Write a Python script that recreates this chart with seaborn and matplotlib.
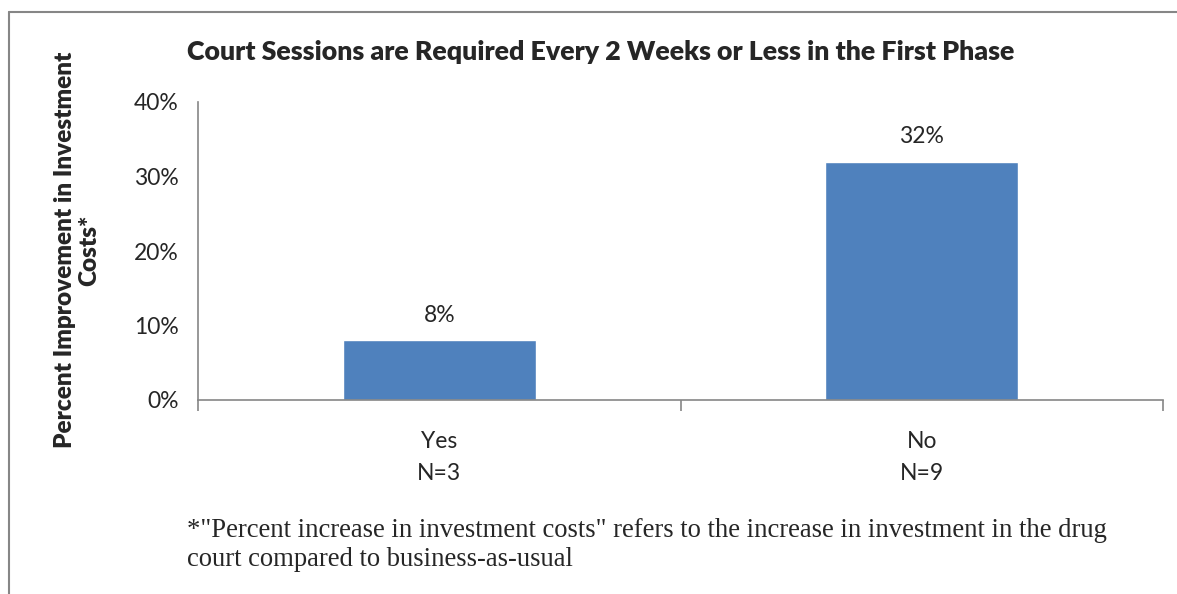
import matplotlib
matplotlib.use('Agg')
import matplotlib.pyplot as plt
import matplotlib.lines as mlines
import seaborn as sns
import pandas as pd

categories = ['Yes\nN=3', 'No\nN=9']
values = [8, 32]
y_ticks = [0, 10, 20, 30, 40]

title = 'Court Sessions are Required Every 2 Weeks or Less in the First Phase'
ylabel = 'Percent Improvement in Investment\nCosts*'
footnote = ('*"Percent increase in investment costs" refers to the increase in investment in the drug\n'
            'court compared to business-as-usual')

sns.set_style('white')
plt.rcParams['font.family'] = ['Lato', 'DejaVu Sans']

df = pd.DataFrame({'cat': categories, 'val': values})

fig = plt.figure(figsize=(11.77, 5.94), dpi=100)
ax = fig.add_axes([198 / 1177, 1 - 400 / 594, (1163 - 198) / 1177, (400 - 102) / 594])

sns.barplot(data=df, x='cat', y='val', color='#4F81BD', width=0.4, saturation=1, ax=ax)

for i, v in enumerate(values):
    ax.text(i, v + 2.0, f'{v}%', ha='center', va='bottom', fontsize=16.5)

ax.set_xlim(-0.5, 1.5)
ax.set_ylim(0, 40)
ax.set_yticks(y_ticks)
ax.set_yticklabels([f'{t}%' for t in y_ticks], fontsize=16.5)
ax.set_xticks([-0.5, 0.5, 1.5], minor=True)
ax.tick_params(axis='x', which='major', length=0, pad=22, labelsize=16.5)
ax.tick_params(axis='x', which='minor', length=8, color='#868686', width=1.2, direction='out')
ax.tick_params(axis='y', length=8, color='#868686', width=1.2, direction='out', pad=6)
ax.tick_params(axis='x', which='minor', bottom=True)
for lab in ax.get_xticklabels():
    lab.set_linespacing(1.7)

for s in ['top', 'right']:
    ax.spines[s].set_visible(False)
for s in ['left', 'bottom']:
    ax.spines[s].set_color('#868686')
    ax.spines[s].set_linewidth(1.2)

ax.set_xlabel('')
ax.set_ylabel('')

fig.text(601 / 1177, 1 - 52 / 594, title, ha='center', va='center', fontsize=19.3, fontweight='heavy')
fig.text(77 / 1177, 1 - 250 / 594, ylabel, ha='center', va='center', rotation=90,
         fontsize=17.5, fontweight='heavy', linespacing=1.15)
fig.text(187 / 1177, 1 - 545 / 594, footnote, ha='left', va='center', fontsize=19.2,
         family='Liberation Serif', linespacing=1.25)

# chart frame
fig.add_artist(mlines.Line2D([9 / 1177, 9 / 1177], [0, 1 - 12 / 594], transform=fig.transFigure,
                             color='#868686', lw=1.5))
fig.add_artist(mlines.Line2D([9 / 1177, 1], [1 - 12 / 594, 1 - 12 / 594], transform=fig.transFigure,
                             color='#868686', lw=1.5))

fig.savefig('out.png', dpi=100)
